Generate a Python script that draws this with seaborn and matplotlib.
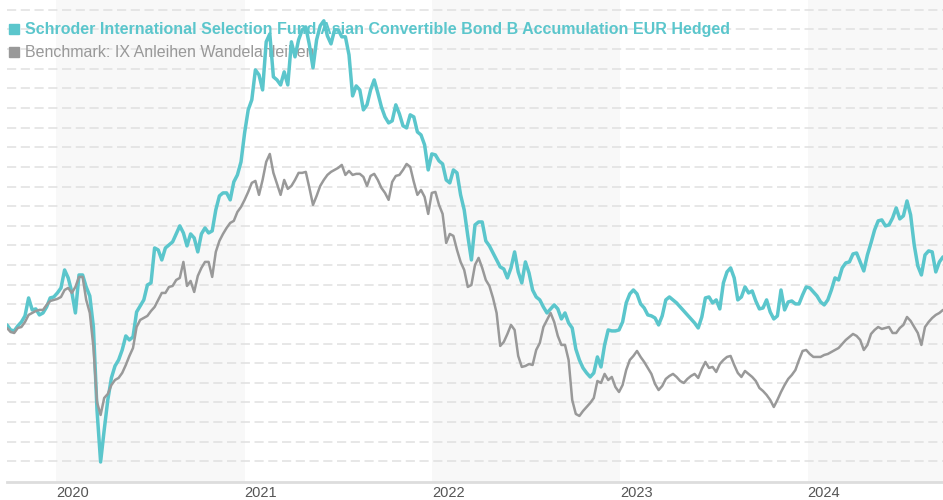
import numpy as np
import pandas as pd
import matplotlib
matplotlib.use("Agg")
import matplotlib.pyplot as plt
from matplotlib.lines import Line2D
import seaborn as sns

start_date = "2019-09-27"
fund_name = "Schroder International Selection Fund Asian Convertible Bond B Accumulation EUR Hedged"
bench_name = "Benchmark: IX Anleihen Wandelanleihen"
year_ticks = ["2020", "2021", "2022", "2023", "2024"]
shaded_years = ["2020", "2022", "2024"]

fund_values = [
    99.90, 99.39, 99.29, 99.80, 100.20, 100.82, 102.65, 101.43, 101.53, 100.92,
    101.12, 101.73, 102.65, 102.75, 103.16, 103.67, 105.50, 104.69, 103.26, 101.12,
    104.99, 104.99, 103.77, 102.85, 99.69, 91.24, 85.94, 89.20, 92.26, 94.50,
    95.72, 96.33, 97.35, 98.78, 98.37, 98.68, 101.22, 101.83, 102.45, 103.97,
    104.18, 107.74, 107.54, 106.52, 107.74, 108.05, 108.36, 109.17, 109.99, 109.27,
    107.95, 109.17, 108.76, 107.34, 109.17, 109.78, 109.27, 109.48, 111.62, 113.04,
    113.35, 113.35, 112.64, 114.47, 115.18, 116.51, 119.46, 121.81, 122.83, 125.88,
    125.37, 123.84, 128.74, 129.55, 125.17, 124.86, 124.35, 125.68, 124.35, 128.74,
    127.21, 128.94, 129.96, 130.26, 128.43, 126.09, 128.94, 130.37, 130.88, 129.35,
    128.53, 129.96, 129.96, 129.25, 129.25, 127.41, 123.23, 124.25, 123.84, 121.81,
    122.32, 123.84, 124.86, 123.54, 122.11, 121.09, 120.48, 120.69, 122.32, 121.40,
    120.18, 119.97, 121.30, 121.09, 119.56, 119.26, 118.24, 115.69, 117.32, 117.22,
    116.61, 116.30, 114.67, 114.37, 115.69, 115.39, 113.15, 111.62, 108.97, 106.52,
    110.09, 110.39, 110.39, 108.46, 107.95, 107.23, 106.52, 105.81, 105.60, 104.69,
    105.71, 107.34, 105.30, 104.18, 106.32, 105.20, 103.46, 102.75, 102.45, 101.73,
    101.12, 101.53, 101.94, 101.53, 100.51, 101.12, 100.10, 99.59, 97.45, 96.33,
    95.52, 95.01, 94.60, 95.01, 96.64, 95.62, 97.86, 99.39, 99.29, 99.29,
    99.39, 100.20, 102.14, 103.06, 103.46, 103.06, 102.04, 101.63, 100.92, 100.82,
    100.61, 99.90, 100.82, 102.45, 102.75, 102.45, 102.14, 101.73, 101.32, 100.92,
    100.51, 100.10, 99.59, 100.71, 102.65, 102.75, 102.14, 102.45, 101.53, 104.18,
    105.30, 105.71, 104.69, 102.45, 102.75, 103.77, 103.16, 103.36, 102.34, 101.53,
    101.63, 102.45, 101.22, 100.51, 100.82, 103.46, 101.43, 102.24, 102.34, 102.04,
    102.04, 102.96, 103.77, 103.67, 103.26, 102.85, 102.24, 101.94, 102.45, 103.46,
    104.69, 104.48, 105.71, 106.22, 106.32, 107.13, 107.23, 106.32, 105.40, 107.03,
    108.25, 109.58, 110.50, 110.60, 109.99, 110.09, 110.80, 111.82, 110.70, 111.01,
    112.53, 111.11, 108.05, 105.91, 104.99, 107.03, 107.44, 107.34, 105.30, 106.32,
    106.83,
]

bench_values = [
    99.59, 99.18, 99.08, 99.59, 99.69, 100.20, 100.92, 101.12, 101.32, 101.43,
    101.43, 101.94, 102.34, 102.45, 102.55, 102.75, 103.46, 103.67, 103.16, 103.77,
    104.79, 104.79, 102.45, 101.12, 97.66, 92.05, 90.73, 92.46, 92.87, 93.78,
    94.29, 94.50, 95.01, 95.82, 96.74, 97.55, 99.69, 100.41, 100.61, 100.82,
    101.32, 101.73, 102.45, 103.16, 103.16, 103.77, 103.87, 104.48, 104.69, 106.32,
    103.87, 104.38, 103.26, 104.89, 105.71, 106.32, 106.32, 104.79, 107.34, 108.46,
    109.17, 109.78, 110.29, 110.50, 111.41, 111.92, 112.64, 113.45, 114.37, 114.57,
    113.15, 114.67, 116.51, 117.32, 115.39, 114.27, 113.15, 114.67, 113.76, 114.06,
    114.67, 115.39, 115.39, 115.49, 113.86, 112.13, 113.04, 114.06, 114.67, 115.18,
    115.49, 115.69, 115.90, 116.20, 115.18, 115.59, 115.18, 115.29, 115.29, 114.98,
    114.06, 115.08, 115.29, 114.67, 113.86, 113.35, 112.64, 114.47, 115.08, 115.18,
    115.69, 116.30, 116.00, 114.47, 113.15, 113.65, 112.94, 111.21, 113.35, 113.45,
    112.13, 111.21, 108.25, 109.17, 108.97, 107.54, 106.32, 105.50, 103.77, 103.97,
    106.01, 106.73, 105.71, 104.48, 103.87, 102.65, 101.12, 97.76, 98.17, 98.98,
    99.90, 99.39, 96.74, 95.62, 95.72, 95.92, 95.82, 97.35, 98.06, 99.69,
    100.41, 101.12, 100.20, 98.78, 97.86, 97.86, 96.33, 92.26, 90.83, 90.63,
    91.13, 91.54, 91.95, 92.46, 94.19, 93.99, 94.91, 94.29, 94.60, 93.58,
    93.07, 93.78, 95.31, 96.33, 96.74, 97.25, 96.64, 96.13, 95.52, 94.91,
    93.89, 93.27, 93.68, 94.40, 94.70, 94.91, 94.60, 94.19, 93.99, 94.40,
    94.70, 94.91, 94.50, 95.41, 96.13, 95.52, 95.62, 95.11, 95.92, 96.33,
    96.64, 96.74, 95.82, 95.01, 94.60, 95.21, 94.91, 94.60, 94.19, 93.48,
    93.17, 92.77, 92.26, 91.54, 92.26, 93.07, 93.78, 94.40, 94.80, 95.31,
    96.33, 97.25, 97.35, 96.94, 96.64, 96.64, 96.64, 96.84, 96.94, 97.15,
    97.35, 97.55, 97.96, 98.37, 98.68, 98.98, 98.78, 98.37, 97.35, 97.86,
    98.98, 99.39, 99.69, 99.49, 99.59, 99.69, 99.08, 99.08, 99.59, 99.90,
    100.71, 100.31, 99.69, 99.08, 97.86, 99.69, 100.20, 100.61, 100.92, 101.12,
    101.43,
]

fund_color = "#5bc6cc"
bench_color = "#999999"

dates = pd.date_range(start_date, periods=len(fund_values), freq="7D")
df_fund = pd.DataFrame({"date": dates, "value": fund_values})
df_bench = pd.DataFrame({"date": dates, "value": bench_values})

sns.set_style("white")
plt.rcParams['font.family'] = ['Liberation Sans', 'DejaVu Sans']

fig = plt.figure(figsize=(9.43, 5), dpi=100)
ax = fig.add_axes([7 / 943, 18 / 500, 936 / 943, 482 / 500])

# Jahresbänder im Hintergrund
for y in shaded_years:
    ax.axvspan(pd.Timestamp(f"{y}-01-01"), pd.Timestamp(f"{int(y) + 1}-01-01"),
               color="#f8f8f8", zorder=0, lw=0)

sns.lineplot(data=df_fund, x="date", y="value", color=fund_color, linewidth=2.5, ax=ax, zorder=3)
sns.lineplot(data=df_bench, x="date", y="value", color=bench_color, linewidth=1.8, ax=ax, zorder=4)

ax.set_xlim(pd.Timestamp("2019-09-27"), pd.Timestamp("2024-09-20"))
ax.set_ylim(83.9, 133.0)
ax.set_yticks(np.arange(86, 133, 2))
ax.yaxis.grid(True, linestyle=(0, (6, 3)), color="#e0e0e0", linewidth=1.1)
ax.set_axisbelow(True)
ax.tick_params(axis="y", left=False, labelleft=False)

ax.set_xticks([pd.Timestamp(f"{y}-01-01") for y in year_ticks])
ax.set_xticklabels(year_ticks, ha="left", color="#555555", fontsize=10.5,
                   family=['Liberation Sans Narrow', 'Liberation Sans', 'DejaVu Sans'])
ax.tick_params(axis="x", length=0, pad=3)
ax.set_xlabel("")
ax.set_ylabel("")

for side in ["top", "left", "right"]:
    ax.spines[side].set_visible(False)
ax.spines["bottom"].set_color("#dddddd")
ax.spines["bottom"].set_linewidth(2)

handles = [
    Line2D([], [], marker="s", linestyle="", color=fund_color, markersize=6.5),
    Line2D([], [], marker="s", linestyle="", color=bench_color, markersize=6.5),
]
leg = ax.legend(handles, [fund_name, bench_name], loc="upper left",
                bbox_to_anchor=(0.0, 0.96), frameon=False, fontsize=11.5,
                handlelength=0.5, handletextpad=0.4, labelspacing=0.5,
                borderaxespad=0, borderpad=0.2)
# Linien liegen im Original über der Legende
leg.set_zorder(2)
texts = leg.get_texts()
texts[0].set_color(fund_color)
texts[0].set_fontweight("bold")
texts[1].set_color(bench_color)

fig.savefig("out.png", dpi=100)
